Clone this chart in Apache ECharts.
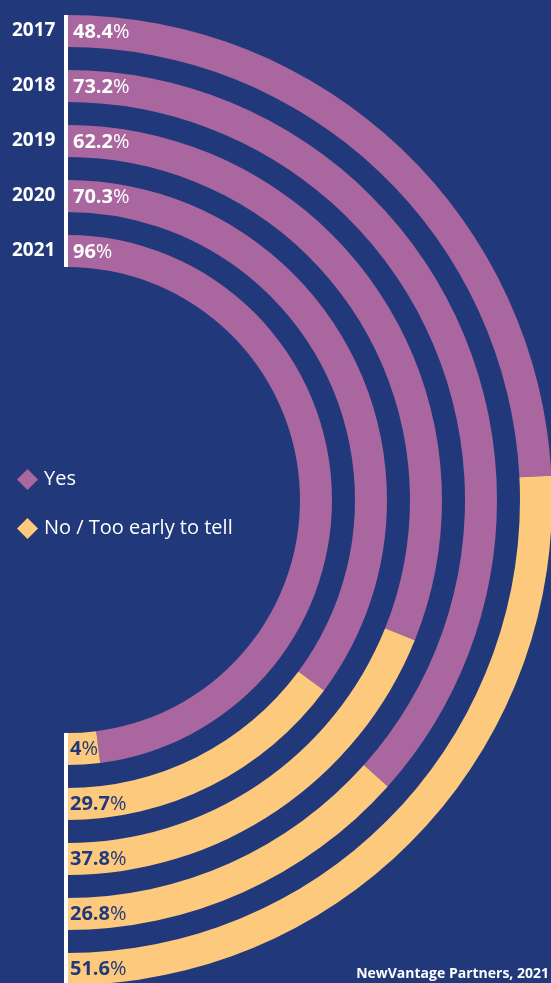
<!DOCTYPE html>
<html>
<head>
<meta charset="utf-8">
<script src="https://cdn.jsdelivr.net/npm/echarts@6/dist/echarts.min.js"></script>
<style>
  html, body { margin: 0; padding: 0; background: #21397a; }
  #chart { width: 551px; height: 983px; }
</style>
</head>
<body>
<div id="chart"></div>
<script>
// Survey answers per year (percent of respondents)
const years = ['2017', '2018', '2019', '2020', '2021'];
const yesShare = [48.4, 73.2, 62.2, 70.3, 96];
const noShare = [51.6, 26.8, 37.8, 29.7, 4];
const answerNames = ['Yes', 'No / Too early to tell'];
const sourceText = 'NewVantage Partners, 2021';

// Layout
const BG = '#21397a';
const PURPLE = '#a9669f';
const YELLOW = '#fdc97d';
const CX = 67, CY = 500;
const OUTER = [485, 430, 375, 320, 265];
const RING = 32;
const FONT = '"Open Sans", "Noto Sans", sans-serif';

const chart = echarts.init(document.getElementById('chart'));

const series = years.map((y, i) => ({
  type: 'pie',
  name: y,
  center: [CX, CY],
  radius: [OUTER[i] - RING, OUTER[i]],
  startAngle: 90,
  endAngle: -90,
  clockwise: true,
  silent: true,
  animation: false,
  label: { show: false },
  labelLine: { show: false },
  emphasis: { disabled: true },
  itemStyle: { borderWidth: 0 },
  data: [
    { name: answerNames[0], value: yesShare[i], itemStyle: { color: PURPLE } },
    { name: answerNames[1], value: noShare[i], itemStyle: { color: YELLOW } }
  ]
}));

const fmt = v => '{b|' + v + '}{p|%}';
const graphics = [];
years.forEach((y, i) => {
  const mid = OUTER[i] - RING / 2;
  graphics.push({
    type: 'text', left: 12, top: CY - mid - 10, z: 10,
    style: { text: y, fill: '#ffffff', font: 'bold 19px ' + FONT }
  });
  graphics.push({
    type: 'text', left: 73, top: CY - mid - 9, z: 10,
    style: {
      text: fmt(yesShare[i]),
      rich: {
        b: { fill: '#ffffff', fontWeight: 'bold', fontSize: 20, fontFamily: FONT },
        p: { fill: '#ffffff', fontWeight: 'normal', fontSize: 20, fontFamily: FONT }
      }
    }
  });
  graphics.push({
    type: 'text', left: 70, top: CY + mid - 10, z: 10,
    style: {
      text: fmt(noShare[i]),
      rich: {
        b: { fill: BG, fontWeight: 'bold', fontSize: 20, fontFamily: FONT },
        p: { fill: BG, fontWeight: 'normal', fontSize: 20, fontFamily: FONT }
      }
    }
  });
});
// vertical baseline bars at the start and end of the half rings
graphics.push({
  type: 'rect', z: 20,
  shape: { x: 64, y: CY - OUTER[0], width: 4, height: OUTER[0] - OUTER[4] + RING },
  style: { fill: '#ffffff' }
});
graphics.push({
  type: 'rect', z: 20,
  shape: { x: 64, y: CY + OUTER[4] - RING, width: 4, height: OUTER[0] - OUTER[4] + RING },
  style: { fill: '#ffffff' }
});
graphics.push({
  type: 'text', right: 2, bottom: 2, z: 10,
  style: { text: sourceText, fill: '#ffffff', font: 'bold 14px ' + FONT }
});

chart.setOption({
  backgroundColor: BG,
  animation: false,
  legend: {
    orient: 'vertical',
    left: 12,
    top: 464,
    itemGap: 28,
    icon: 'diamond',
    itemWidth: 21,
    itemHeight: 21,
    selectedMode: false,
    data: answerNames,
    textStyle: { color: '#ffffff', fontSize: 20, fontFamily: FONT, padding: [0, 0, 0, 1] }
  },
  series: series,
  graphic: graphics
});
</script>
</body>
</html>
